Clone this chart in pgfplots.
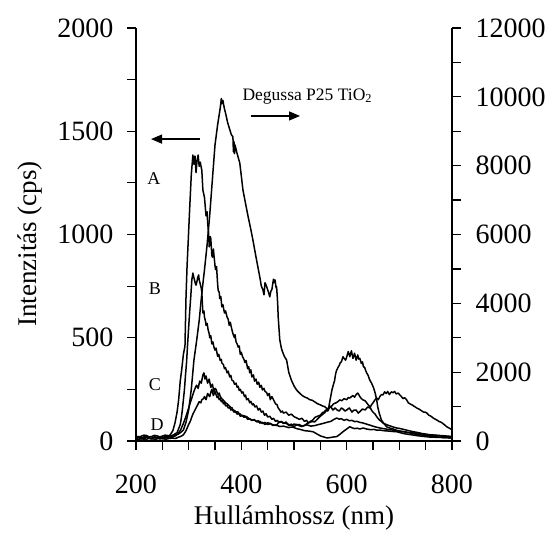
\documentclass[border=0pt]{standalone}
\usepackage{fontspec}
\setmainfont{Liberation Serif}
\usepackage{pgfplots}
\pgfplotsset{compat=1.18}
\usepackage{pgfplotstable}
\usetikzlibrary{arrows.meta}

% left axis samples
\pgfplotstableread{
x y
200 15
205 22
210 10
215 18
220 22
225 14
230 12
235 20
240 18
245 12
250 14
255 22
260 20
265 30
270 50
274 87
278 140
281 200
284 290
287 350
290 420
293 460
295 700
297 850
299 960
302 1130
305 1290
308 1385
310 1340
312 1380
314 1300
316 1360
318 1385
320 1330
322 1350
325 1310
327 1215
330 1180
332 1120
333 1090
335 1110
336 1060
338 1000
339 940
341 990
342 980
344 900
345 890
347 930
348 900
350 850
351 830
353 845
354 800
355 760
356 730
358 720
359 690
361 700
363 650
365 660
368 620
370 630
373 600
375 590
377 560
379 575
382 540
384 520
387 500
388 515
390 480
392 470
394 455
396 460
398 420
400 430
402 410
405 395
407 380
409 390
412 350
414 360
416 330
418 345
420 310
423 320
425 290
428 300
430 275
433 285
435 260
438 270
440 247
443 255
445 240
448 235
450 220
453 230
455 200
458 215
460 205
463 190
465 180
468 175
470 160
473 150
475 140
478 145
480 135
485 140
490 125
495 130
500 118
505 112
510 105
515 110
520 95
524 100
527 87
531 95
535 100
540 115
545 120
550 125
555 140
558 135
562 150
566 160
570 165
574 150
578 160
582 150
586 145
590 160
593 155
597 145
600 150
605 160
610 140
614 150
618 150
622 135
625 142
630 155
635 150
640 165
644 160
647 175
650 185
654 200
657 208
660 200
663 215
666 225
669 223
672 238
675 230
678 240
681 225
685 238
688 234
691 240
694 228
698 232
701 223
704 215
707 205
710 210
714 199
717 185
720 180
724 175
727 170
730 165
733 160
737 155
740 150
743 145
746 140
749 140
752 136
756 125
760 120
765 110
771 102
775 95
780 90
785 80
790 69
795 62
800 55
}\tblA
\pgfplotstableread{
x y
200 15
205 8
210 12
215 20
220 18
225 12
230 10
235 16
240 15
245 20
250 12
255 15
260 18
265 22
270 25
274 35
278 40
281 60
284 80
286 110
288 150
290 200
292 250
294 320
296 380
298 470
300 550
302 630
304 700
306 780
308 813
310 790
311 780
313 760
314 755
316 775
317 790
319 804
320 780
322 760
324 740
325 717
327 620
329 630
330 600
332 580
333 560
335 570
337 538
339 520
340 500
342 510
344 470
346 480
348 455
350 440
352 450
355 410
357 420
360 390
362 395
363 378
366 370
368 350
370 355
373 330
375 338
378 310
380 318
382 295
385 290
387 275
390 280
392 260
394 265
396 245
398 250
401 232
403 238
406 215
408 222
410 200
413 205
416 185
418 192
421 175
423 180
426 165
429 170
432 150
435 158
438 140
441 145
444 125
447 132
450 116
454 120
458 105
461 110
465 95
468 100
472 90
476 95
480 85
485 92
490 75
495 82
500 70
505 78
510 80
515 72
520 75
525 85
530 90
535 95
539 92
543 102
546 110
550 120
555 130
560 150
564 145
568 166
572 170
575 180
580 185
584 192
587 199
591 195
595 205
600 200
603 210
606 208
609 215
612 220
615 212
618 225
621 232
623 225
625 215
628 205
631 199
635 195
638 185
641 175
644 166
647 150
650 140
654 130
657 118
660 108
663 100
666 95
669 87
675 80
680 75
688 68
695 63
702 60
710 55
718 50
726 45
733 42
740 38
750 33
758 29
770 27
780 24
790 22
800 19
}\tblB
\pgfplotstableread{
x y
200 15
205 20
210 12
215 8
220 20
225 15
230 10
235 18
240 15
245 10
250 12
255 18
260 15
265 12
270 20
275 25
280 35
285 55
290 85
295 120
300 160
303 185
305 200
308 225
310 240
313 260
315 270
318 255
321 290
324 280
327 320
329 330
331 300
333 315
336 280
339 300
342 260
345 275
348 240
350 255
352 250
354 235
356 225
358 232
360 215
363 205
365 200
368 192
370 185
373 180
375 175
378 168
380 160
382 162
384 150
387 148
390 140
393 142
395 135
398 130
400 125
405 122
410 118
415 108
420 100
424 104
428 95
432 98
435 87
440 90
445 80
450 88
455 85
460 78
467 75
470 88
473 93
478 90
485 85
490 80
495 75
500 82
505 80
510 74
515 70
520 76
525 78
532 72
540 75
547 80
555 85
562 90
570 95
576 105
581 111
586 106
590 108
595 100
600 105
605 98
610 100
615 94
620 95
625 90
630 88
635 84
640 80
645 76
650 72
655 68
660 65
665 62
670 60
675 58
680 55
685 54
690 52
695 50
700 48
708 45
715 42
722 40
730 38
738 36
745 34
752 32
760 30
770 28
780 26
790 24
800 22
}\tblC
\pgfplotstableread{
x y
200 10
205 6
210 15
215 12
220 8
225 14
230 14
235 8
240 10
245 16
250 12
255 9
260 10
265 15
270 14
275 12
280 18
285 22
290 30
295 50
300 80
303 95
305 110
308 130
310 140
313 155
315 165
318 180
320 190
323 185
325 200
328 205
330 215
333 200
336 230
338 222
340 215
342 235
344 250
347 220
350 240
352 225
354 210
356 218
358 200
360 205
362 190
364 195
366 180
368 185
370 170
373 172
375 160
378 162
380 150
383 152
386 140
389 142
392 130
395 134
398 120
402 122
405 115
408 118
412 105
416 108
420 100
425 102
430 92
435 95
440 85
445 90
450 80
455 84
460 75
466 78
473 70
480 72
490 65
497 68
505 60
512 56
520 50
528 48
536 45
543 35
550 25
556 20
562 15
567 16
572 18
576 20
581 21
587 32
593 45
600 58
606 69
610 64
615 60
620 62
625 58
631 63
638 58
645 55
652 56
658 52
663 53
670 50
675 49
680 48
688 46
695 45
702 40
710 35
718 32
726 29
733 26
740 24
750 21
758 19
770 18
780 17
790 16
800 15
}\tblD
% Degussa P25 TiO2, right axis
\pgfplotstableread{
x y
200 150
205 110
210 140
215 170
220 160
225 120
230 130
235 165
240 150
245 120
250 140
255 170
260 160
265 140
270 170
275 180
280 200
285 250
290 320
295 550
300 900
305 1500
310 2350
315 2900
320 3500
325 4300
330 4970
335 5700
340 6570
345 7590
350 8600
355 9190
360 9680
362 9950
363 9800
365 9900
366 9800
368 9650
370 9530
374 9250
378 9050
381 8900
384 8840
385 8400
386 8700
387 8350
388 8600
392 8350
397 8080
400 7700
403 7300
408 6900
413 6510
418 6150
422 5840
426 5500
430 5170
435 4770
438 4500
441 4390
443 4250
445 4600
448 4490
451 4350
454 4190
456 4350
458 4400
461 4700
463 4600
464 4680
466 4450
467 4480
469 4000
470 3600
473 2940
476 2700
478 2600
482 2450
486 2350
490 2000
495 1770
500 1600
505 1480
510 1400
515 1330
520 1280
525 1250
530 1200
535 1180
540 1130
545 1080
550 1050
554 1020
558 1000
562 950
565 900
568 1150
572 1480
575 1650
577 1750
579 1950
581 2060
584 2150
586 2200
588 2280
590 2300
593 2450
595 2400
598 2350
600 2440
603 2600
606 2450
609 2620
612 2400
615 2550
618 2350
621 2500
623 2380
625 2400
628 2250
630 2300
632 2150
634 2150
636 2050
638 1980
641 1900
643 1800
645 1740
647 1690
651 1550
654 1400
657 1200
659 990
662 800
666 610
670 520
676 410
683 370
690 340
695 310
700 290
708 270
715 250
722 230
730 200
740 180
750 160
760 140
770 120
778 110
785 100
792 95
800 90
}\tblP

\begin{document}
\begin{tikzpicture}
\pgfplotsset{
  every axis/.append style={
    scale only axis, width=316pt, height=413pt,
    xmin=200, xmax=800,
    tick align=outside,
    major tick length=9pt, minor tick length=9pt,
    every tick/.style={black, line width=1.2pt},
    axis line style={line width=1.4pt, -},
    ticklabel style={font=\fontsize{28}{33}\selectfont},
    label style={font=\fontsize{27}{32}\selectfont},
    /pgf/number format/assume math mode=true,
    /pgf/number format/1000 sep={},
  },
  spec/.style={black, line width=1.5pt, line join=round, no markers},
}
\begin{axis}[
  ymin=0, ymax=2000,
  axis x line*=bottom, axis y line*=left,
  xtick={200,400,600,800}, minor xtick={250,300,...,750},
  ytick={0,500,...,2000}, minor ytick={250,750,1250,1750},
  xticklabel style={yshift=-21pt},
  yticklabel style={xshift=-10pt},
  xlabel={Hullámhossz (nm)},
  xlabel style={at={(axis description cs:0.5,0)}, anchor=base, yshift=-83pt},
  ylabel={Intenzitás (cps)},
  ylabel style={at={(axis description cs:0,0.477)}, anchor=base, yshift=99pt},
]
\addplot[spec] table {\tblA};
\addplot[spec] table {\tblB};
\addplot[spec] table {\tblC};
\addplot[spec] table {\tblD};
\node[font=\fontsize{18}{20}\selectfont] at (axis cs:234,1269) {A};
\node[font=\fontsize{18}{20}\selectfont] at (axis cs:236,736) {B};
\node[font=\fontsize{18}{20}\selectfont] at (axis cs:236,271) {C};
\node[font=\fontsize{18}{20}\selectfont] at (axis cs:240,77) {D};
\node[font=\fontsize{17.5}{20}\selectfont, anchor=base west, inner sep=0pt] at (axis cs:402,1651) {Degussa P25 TiO\textsubscript{2}};
\draw[line width=1.3pt, -{Triangle[length=11pt,width=9pt]}] (axis cs:321.5,1462) -- (axis cs:228.5,1462);
\draw[line width=1.3pt, -{Triangle[length=11pt,width=9pt]}] (axis cs:418.3,1574) -- (axis cs:511.4,1574);
\end{axis}
\begin{axis}[
  ymin=0, ymax=12000,
  axis x line=none, axis y line*=right,
  scaled y ticks=false,
  ytick={0,2000,...,12000}, minor ytick={1000,3000,...,11000},
  yticklabel style={xshift=11pt},
]
\addplot[spec] table {\tblP};
\end{axis}
\path ([shift={(-136pt,-94pt)}]current axis.south west) rectangle ++(551pt,535pt);
\end{tikzpicture}
\end{document}
